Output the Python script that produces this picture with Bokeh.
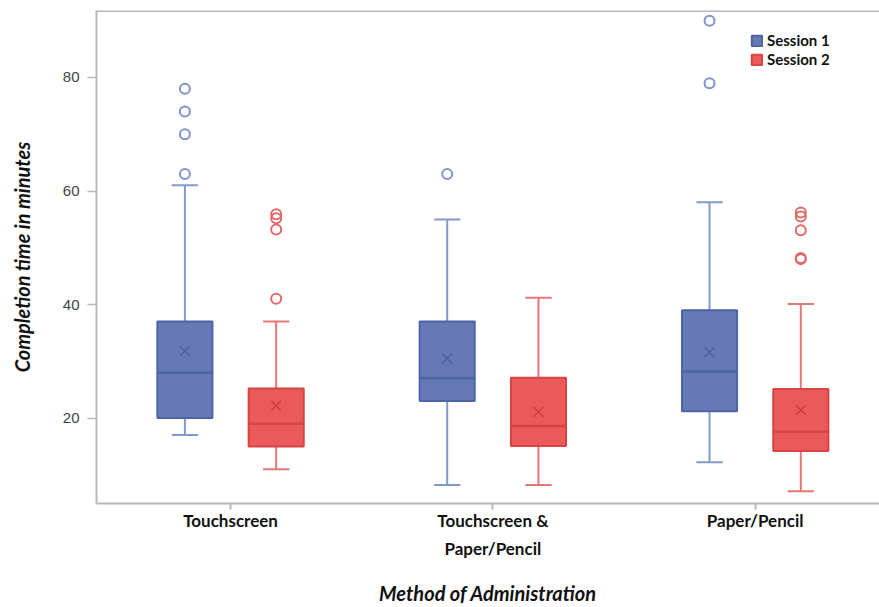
from bokeh.plotting import figure
from bokeh.models import Range1d, FixedTicker, Legend, LegendItem, Span, ColumnDataSource
from bokeh.embed import file_html
from bokeh.resources import INLINE

# ---- data ----
categories = ["Touchscreen", "Touchscreen &\nPaper/Pencil", "Paper/Pencil"]

s1_q1 = [20, 23, 21.2]
s1_q3 = [37, 37, 39]
s1_median = [28, 27, 28.2]
s1_mean = [31.8, 30.5, 31.6]
s1_low = [17, 8.2, 12.2]
s1_high = [61, 55, 58]
s1_out_cat = [0, 0, 0, 0, 1, 2, 2]
s1_out_val = [63, 70, 74, 78, 63, 79, 90]

s2_q1 = [15, 15.1, 14.2]
s2_q3 = [25.2, 27.1, 25.1]
s2_median = [19, 18.6, 17.6]
s2_mean = [22.2, 21.1, 21.4]
s2_low = [11, 8.2, 7.1]
s2_high = [37, 41.2, 40.1]
s2_out_cat = [0, 0, 0, 0, 2, 2, 2, 2, 2]
s2_out_val = [41, 53.2, 55.2, 55.9, 48, 48.2, 53.1, 55.5, 56.2]

yticks = [20, 40, 60, 80]

# ---- styles ----
BOX_W = 0.21
CAP_W = 0.10
OFFSET = 0.174
AXIS_GRAY = "#b4b9c0"

series = [
    dict(name="Session 1", q1=s1_q1, q3=s1_q3, med=s1_median, mean=s1_mean,
         low=s1_low, high=s1_high, oc=s1_out_cat, ov=s1_out_val, off=-OFFSET,
         fill="#6679b5", edge="#4d64a6", whisk="#8398cc", out="#7f93c9", mean_c="#4a60a5"),
    dict(name="Session 2", q1=s2_q1, q3=s2_q3, med=s2_median, mean=s2_mean,
         low=s2_low, high=s2_high, oc=s2_out_cat, ov=s2_out_val, off=OFFSET,
         fill="#eb5a5a", edge="#d64444", whisk="#e57777", out="#e06a6a", mean_c="#c93c3c"),
]

p = figure(width=879, height=607,
           x_range=Range1d(-0.511, 2.474), y_range=Range1d(4.95, 91.8),
           output_backend="svg", toolbar_location=None,
           min_border_left=96, min_border_top=10, min_border_right=0, min_border_bottom=103)

p.xgrid.visible = False
p.ygrid.visible = False
p.outline_line_color = None
p.background_fill_color = "white"

box_renderers = []
for s in series:
    idx = list(range(len(categories)))
    xs = [i + s["off"] for i in idx]
    src = ColumnDataSource(dict(
        x=xs, q1=s["q1"], q3=s["q3"], med=s["med"], mean=s["mean"],
        low=s["low"], high=s["high"],
        x0=[x - BOX_W / 2 for x in xs], x1=[x + BOX_W / 2 for x in xs],
        c0=[x - CAP_W / 2 for x in xs], c1=[x + CAP_W / 2 for x in xs],
    ))
    # whiskers
    p.segment(x0="x", y0="q3", x1="x", y1="high", source=src, line_color=s["whisk"], line_width=2)
    p.segment(x0="x", y0="q1", x1="x", y1="low", source=src, line_color=s["whisk"], line_width=2)
    p.segment(x0="c0", y0="high", x1="c1", y1="high", source=src, line_color=s["whisk"], line_width=2)
    p.segment(x0="c0", y0="low", x1="c1", y1="low", source=src, line_color=s["whisk"], line_width=2)
    # box
    r = p.vbar(x="x", width=BOX_W, top="q3", bottom="q1", source=src,
               fill_color=s["fill"], line_color=s["edge"], line_width=2)
    box_renderers.append(r)
    # median
    p.segment(x0="x0", y0="med", x1="x1", y1="med", source=src, line_color=s["edge"], line_width=2.5)
    # mean
    p.scatter(x="x", y="mean", source=src, marker="x", size=14,
              line_color=s["mean_c"], line_width=1.4)
    # outliers
    osrc = ColumnDataSource(dict(x=[c + s["off"] for c in s["oc"]], y=s["ov"]))
    p.scatter(x="x", y="y", source=osrc, marker="circle", size=10,
              fill_color=None, line_color=s["out"], line_width=2)

# top frame line
p.add_layout(Span(location=91.8 - 0.08, dimension="width", line_color=AXIS_GRAY, line_width=2))

# axes
xa = p.xaxis[0]
xa.ticker = FixedTicker(ticks=list(range(len(categories))))
xa.major_label_overrides = {i: c for i, c in enumerate(categories)}
xa.minor_tick_line_color = None
xa.major_tick_in = 0
xa.major_tick_out = 6
xa.axis_line_color = AXIS_GRAY
xa.axis_line_width = 2
xa.major_tick_line_color = AXIS_GRAY
xa.major_tick_line_width = 2
xa.major_label_text_font = "Lato"
xa.major_label_text_font_style = "bold"
xa.major_label_text_font_size = "17px"
xa.major_label_text_color = "#111111"
xa.major_label_text_line_height = 1.35
xa.major_label_standoff = 0
xa.axis_label = "Method of Administration"
xa.axis_label_text_font = "Lato"
xa.axis_label_text_font_style = "bold italic"
xa.axis_label_text_font_size = "20px"
xa.axis_label_text_color = "#111111"
xa.axis_label_standoff = 19

ya = p.yaxis[0]
ya.ticker = FixedTicker(ticks=yticks)
ya.minor_tick_line_color = None
ya.major_tick_in = 0
ya.major_tick_out = 9
ya.axis_line_color = AXIS_GRAY
ya.axis_line_width = 2
ya.major_tick_line_color = AXIS_GRAY
ya.major_tick_line_width = 1.5
ya.major_label_text_font = "Liberation Sans"
ya.major_label_text_font_size = "15px"
ya.major_label_text_color = "#444444"
ya.major_label_standoff = 8
ya.axis_label = "Completion time in minutes"
ya.axis_label_text_font = "Lato"
ya.axis_label_text_font_style = "bold italic"
ya.axis_label_text_font_size = "20px"
ya.axis_label_text_color = "#111111"
ya.axis_label_standoff = 26

legend = Legend(items=[LegendItem(label=s["name"], renderers=[r]) for s, r in zip(series, box_renderers)],
                location=(654, 435), orientation="vertical",
                glyph_width=13, glyph_height=13, label_height=13, spacing=1,
                label_standoff=4, padding=0, margin=0,
                label_text_font="Lato", label_text_font_style="bold",
                label_text_font_size="15px", label_text_color="#111111",
                border_line_color=None, background_fill_alpha=0)
p.add_layout(legend)

open("out.html", "w").write(file_html(p, INLINE))
